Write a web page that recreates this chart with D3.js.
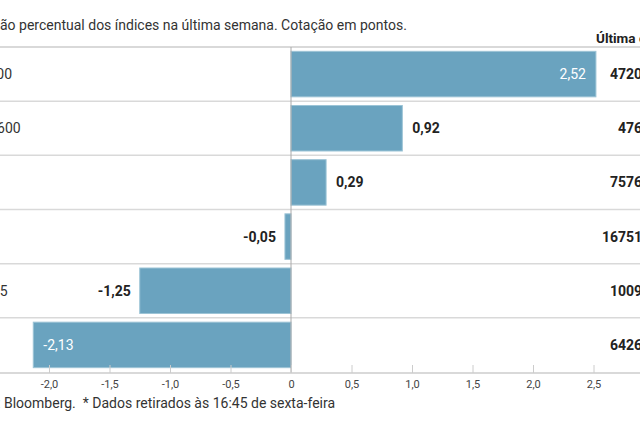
<!DOCTYPE html>
<html>
<head>
<meta charset="utf-8">
<script src="https://cdn.jsdelivr.net/npm/d3@7"></script>
<style>
  html, body { margin: 0; padding: 0; background: #fff; overflow: hidden; }
  svg { display: block; }
  text { font-family: Roboto, "Open Sans", sans-serif; }
</style>
</head>
<body>
<svg id="chart" width="640" height="426"></svg>
<script>
const categories = ["S&P 500", "Stoxx 600", "FTSE", "DAX", "IBEX 35", "PSI"];
const changes = [2.52, 0.92, 0.29, -0.05, -1.25, -2.13];
const lastQuotes = ["4720,73", "476,84", "7576,36", "16751,64", "1009,38", "6426,45"];
const xTicks = [-2.0, -1.5, -1.0, -0.5, 0, 0.5, 1.0, 1.5, 2.0, 2.5];
const subtitle = "Variação percentual dos índices na última semana. Cotação em pontos.";
const rightHeader = "Última cotação*";
const footer = "Fonte: Bloomberg.  * Dados retirados às 16:45 de sexta-feira";

const fmt = v => d3.format(".2f")(v).replace(".", ",").replace("\u2212", "-");
const fmtTick = v => v === 0 ? "0" : d3.format(".1f")(v).replace(".", ",").replace("\u2212", "-");

const svg = d3.select("#chart");
const barColor = "#6aa3bf";

// text measurement helper
function measure(str, size, weight) {
  const t = svg.append("text").attr("font-size", size).attr("font-weight", weight || "normal")
    .style("white-space", "pre").text(str);
  const w = t.node().getComputedTextLength();
  t.remove();
  return w;
}

const x = d3.scaleLinear().domain([-2, 2.5]).range([49, 593.5]);
const y = d3.scaleBand().domain(categories).range([47, 372]).paddingInner(0.16).paddingOuter(0.08);
const step = y.step();

// subtitle (left part cut off by page edge)
svg.append("text").attr("x", -measure("Variaç", 14)).attr("y", 30)
  .attr("font-size", 14).attr("fill", "#333").text(subtitle);

// right header
svg.append("text").attr("x", 596).attr("y", 43)
  .attr("font-size", 13.5).attr("font-weight", "bold").attr("fill", "#222").text(rightHeader);

// row separators
const bounds = d3.range(categories.length).map(i => y(categories[i]) - y.paddingOuter() * step);
svg.append("g").selectAll("line").data(bounds).join("line")
  .attr("x1", 0).attr("x2", 640)
  .attr("y1", d => d).attr("y2", d => d)
  .attr("stroke", "#d9d9d9").attr("stroke-width", (d, i) => i === 0 ? 2 : 1.5);

// bars
svg.append("g").selectAll("rect").data(changes).join("rect")
  .attr("x", d => Math.min(x(0), x(d)))
  .attr("width", d => Math.abs(x(d) - x(0)))
  .attr("y", (d, i) => y(categories[i]))
  .attr("height", y.bandwidth())
  .attr("fill", barColor)
  .attr("stroke", "#9cc4d6").attr("stroke-width", 1);

// zero line
svg.append("line").attr("x1", x(0)).attr("x2", x(0))
  .attr("y1", 47).attr("y2", 373).attr("stroke", "#aaa").attr("stroke-width", 1);

// category labels (left-aligned, mostly cut off by page edge)
const labelX = 12 - measure(categories[0], 14);
svg.append("g").selectAll("text").data(categories).join("text")
  .attr("x", labelX).attr("y", d => y(d) + y.bandwidth() / 2 + 5)
  .attr("font-size", 14).attr("fill", "#333").text(d => d);

// value labels
const inside = d => Math.abs(d) > 2;
svg.append("g").selectAll("text").data(changes).join("text")
  .attr("x", d => {
    if (inside(d)) return d > 0 ? x(d) - 10 : x(d) + 10;
    return d > 0 ? x(d) + 10 : x(d) - 9;
  })
  .attr("y", (d, i) => y(categories[i]) + y.bandwidth() / 2 + 5)
  .attr("text-anchor", d => (d > 0) === inside(d) ? "end" : "start")
  .attr("font-size", 14)
  .attr("font-weight", d => inside(d) ? "normal" : "bold")
  .attr("fill", d => inside(d) ? "#fff" : "#222")
  .text(d => fmt(d));

// last quote column (right-aligned, cut off by page edge)
const quoteRight = 610 + measure(lastQuotes[0], 14, "bold");
svg.append("g").selectAll("text").data(lastQuotes).join("text")
  .attr("x", quoteRight).attr("y", (d, i) => y(categories[i]) + y.bandwidth() / 2 + 5)
  .attr("text-anchor", "end").attr("font-size", 14).attr("font-weight", "bold")
  .attr("fill", "#222").text(d => d);

// x axis
const axisY = 373;
const axis = d3.axisBottom(x).tickValues(xTicks).tickSize(-8).tickPadding(7).tickFormat(fmtTick);
const gx = svg.append("g").attr("transform", `translate(0,${axisY})`).call(axis);
gx.select(".domain").remove();
gx.insert("line", ":first-child").attr("x1", 0).attr("x2", 640).attr("stroke", "#ccc").attr("stroke-width", 1.5);
gx.selectAll(".tick line").attr("stroke", "#ccc");
gx.selectAll(".tick text").attr("font-size", 11).attr("fill", "#444")
  .attr("font-family", "Roboto, Open Sans, sans-serif");

// footer
svg.append("text").attr("x", 4 - measure("Fonte: ", 14)).attr("y", 408)
  .attr("font-size", 14).attr("fill", "#333").style("white-space", "pre").text(footer);
</script>
</body>
</html>
